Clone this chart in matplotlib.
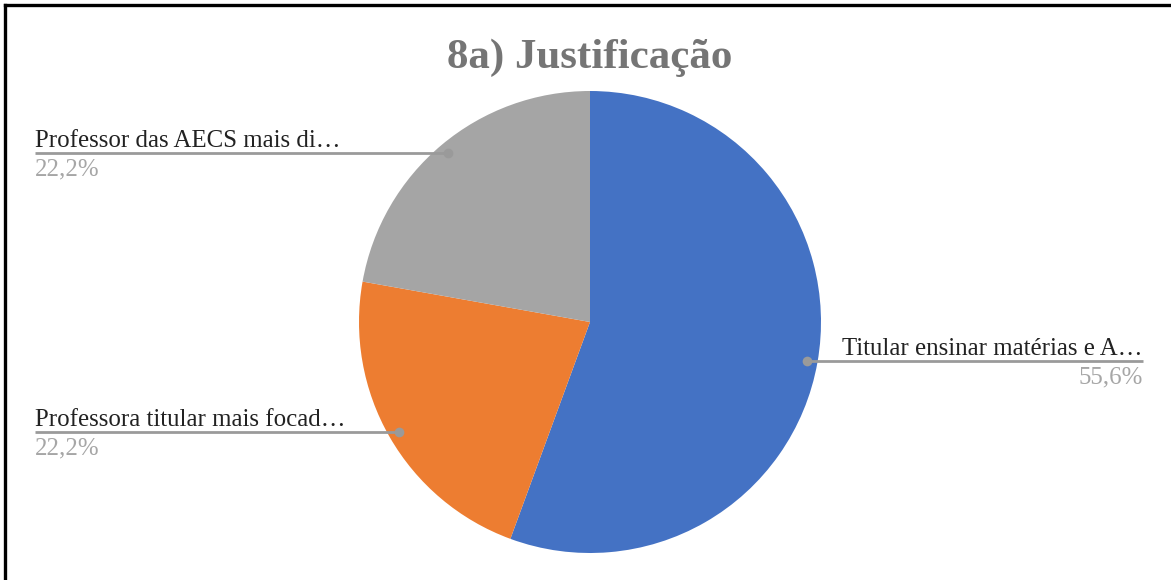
import numpy as np
import matplotlib.pyplot as plt

# slice data (clockwise from 12 o'clock)
labels = ['Titular ensinar matérias e A…',
          'Professora titular mais focad…',
          'Professor das AECS mais di…']
pcts = [55.6, 22.2, 22.2]
pct_text = ['55,6%', '22,2%', '22,2%']
colors = ['#4472C4', '#ED7D31', '#A5A5A5']

W, H = 1171, 580
fig = plt.figure(figsize=(W / 100, H / 100), dpi=100)
ax = fig.add_axes([0, 0, 1, 1])

cx, cy, R = 590, 258, 231
wedges, _ = ax.pie(pcts, colors=colors, startangle=90, counterclock=False,
                   center=(cx, cy), radius=R, wedgeprops=dict(linewidth=0))
ax.set_xlim(0, W)
ax.set_ylim(0, H)
ax.axis('off')

serif = 'Liberation Serif'
ax.text(cx, 522, '8a) Justificação', ha='center', va='center', fontsize=31,
        fontweight='bold', color='#757575', family=serif)

# leader lines: dot at the middle of each wedge, horizontal line to the label
label_x = {0: 1143, 1: 35, 2: 35}
for i, w in enumerate(wedges):
    mid = np.deg2rad((w.theta1 + w.theta2) / 2)
    dx = cx + 0.955 * R * np.cos(mid)
    dy = cy + 0.955 * R * np.sin(mid)
    lx = label_x[i]
    ax.plot([lx, dx], [dy, dy], color='#9a9a9a', lw=2, solid_capstyle='butt', zorder=3)
    ax.plot(dx, dy, 'o', color='#9a9a9a', ms=7, mec='none', zorder=4)
    ha = 'right' if lx > cx else 'left'
    ax.text(lx, dy + 6, labels[i], ha=ha, va='baseline', fontsize=17.9,
            color='#222222', family=serif)
    ax.text(lx, dy - 23, pct_text[i], ha=ha, va='baseline', fontsize=17.9,
            color='#a6a6a6', family=serif)

# frame edges along the top and left
ax.plot([5, W], [H - 4.5, H - 4.5], color='black', lw=2.4, clip_on=False)
ax.plot([5, 5], [0, H - 4.5], color='black', lw=2.4, clip_on=False)

fig.savefig('out.png', dpi=100)
